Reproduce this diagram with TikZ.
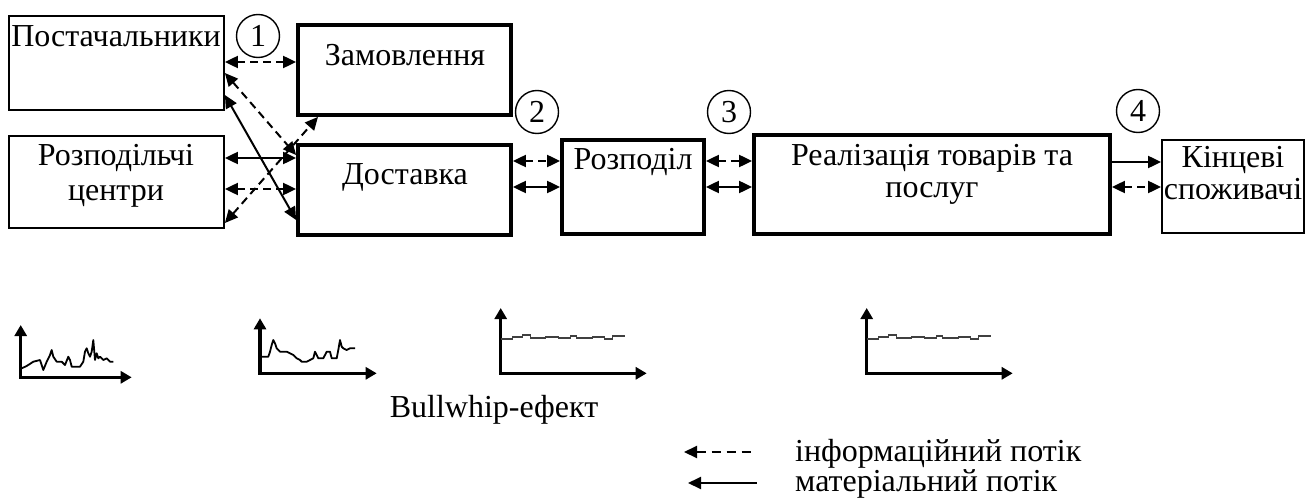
\documentclass[tikz,border=0pt]{standalone}
\usepackage{fontspec}
\setmainfont{Liberation Serif}
\usetikzlibrary{arrows.meta}
\begin{document}
\begin{tikzpicture}[x=1pt,y=-1pt,
  thinbox/.style={draw, line width=1.8pt, inner sep=0pt},
  thickbox/.style={draw, line width=3.8pt, inner sep=0pt},
  txt/.style={inner sep=0pt, font=\fontsize{32}{32}\selectfont, align=center},
  num/.style={draw, circle, fill=white, line width=1.4pt, minimum size=43pt, inner sep=0pt, font=\fontsize{32}{32}\selectfont},
  mat/.style={line width=2pt, {Triangle[length=13pt,width=12pt]}-{Triangle[length=13pt,width=12pt]}},
  inf/.style={mat, dash pattern=on 8pt off 5pt},
  matone/.style={line width=2pt, -{Triangle[length=13pt,width=12pt]}},
  axis/.style={line width=3.5pt, {Triangle[length=11pt,width=12pt]}-{Triangle[length=11pt,width=12pt]}},
  sig/.style={line width=1.8pt, line join=round},
  flat/.style={line width=1.2pt, draw=black!75},
]
\useasboundingbox (0,0) rectangle (1315,503);

% boxes
\node[thinbox, minimum width=215pt, minimum height=94pt] (post) at (116.5,63) {};
\node[thinbox, minimum width=215pt, minimum height=92pt] (rozc) at (116.5,182) {};
\node[thickbox, minimum width=213pt, minimum height=90pt] (zam) at (404.5,70) {};
\node[thickbox, minimum width=213pt, minimum height=90pt] (dost) at (404.5,190) {};
\node[thickbox, minimum width=142pt, minimum height=94pt] (rozp) at (633,187) {};
\node[thickbox, minimum width=356pt, minimum height=99pt] (real) at (932,184.5) {};
\node[thinbox, minimum width=142pt, minimum height=93pt] (kinc) at (1233,186.5) {};

% texts
\node[txt] (tpost) at (116,36) {Постачальники};
\node[txt] (tzam) at (405,55) {Замовлення};
\node[txt, font=\fontsize{32}{35}\selectfont] (trozc) at (116,176) {Розподільчі\\центри};
\node[txt] (tdost) at (405,177) {Доставка};
\node[txt] (trozp) at (633,162) {Розподіл};
\node[txt] (treal) at (932,174) {Реалізація товарів та\\послуг};
\node[txt] (tkinc) at (1233,173) {Кінцеві\\споживачі};

% connectors left cluster
\draw[inf] (post.east |- 0,62) -- (zam.west |- 0,62);
\draw[mat] (rozc.east |- 0,158) -- (dost.west |- 0,158);
\draw[inf] (rozc.east |- 0,189) -- (dost.west |- 0,189);
\draw[inf] (post.east |- 0,73) -- (dost.west |- 0,155);
\draw[mat] (post.east |- 0,95) -- (dost.west |- 0,220);
\draw[inf] (rozc.east |- 0,223) -- (zam.south -| 318,0);

% connectors chain
\draw[inf] (dost.east |- 0,161) -- (rozp.west |- 0,161);
\draw[mat] (dost.east |- 0,187) -- (rozp.west |- 0,187);
\draw[inf] (rozp.east |- 0,161) -- (real.west |- 0,161);
\draw[mat] (rozp.east |- 0,187) -- (real.west |- 0,187);
\draw[matone] (real.east |- 0,162) -- (kinc.west |- 0,162);
\draw[inf] (real.east |- 0,187) -- (kinc.west |- 0,187);

% numbered circles
\node[num] (n1) at (258,36) {1};
\node[num] (n2) at (537,112) {2};
\node[num] (n3) at (729,112) {3};
\node[num] (n4) at (1138,111) {4};

% charts
\draw[axis] (20.7,325) -- (20.7,377.3) -- (131.7,377.3);
\draw[sig] (21.7,368.3) -- (26.7,366) -- (33.3,361.7) -- (40,360) -- (43.3,370) -- (46.7,361.7) -- (50,355) -- (51.7,350) -- (53.3,356.7) -- (56.7,361.7) -- (61.7,361.7) -- (65,365) -- (68.3,356.7) -- (70,360) -- (71.7,366.7) -- (80,366.7) -- (83.3,361.7) -- (85,351.7) -- (86.7,348.3) -- (88.3,353.3) -- (90,356.7) -- (91.7,351.7) -- (93.3,340) -- (95,360) -- (96.7,353.3) -- (98.3,358.3) -- (100,356.7) -- (103.3,360) -- (106.7,358.3) -- (110,361.7) -- (113.3,361.7);

\draw[axis] (260,318.3) -- (260,373.3) -- (376.7,373.3);
\draw[sig] (260,356.7) -- (268.3,356.7) -- (270,351.7) -- (271.7,345) -- (273.3,340) -- (275,343.3) -- (276.7,348.3) -- (280,351.7) -- (286.7,351.7) -- (290,353.3) -- (293.3,355) -- (296.7,358.3) -- (300,360) -- (301.7,361.7) -- (306.7,361.7) -- (310,360) -- (313.3,358.3) -- (315,351.7) -- (316.7,355) -- (318.3,358.3) -- (323.3,358.3) -- (325,355) -- (326.7,351.7) -- (330,351.7) -- (331.7,358.3) -- (336.7,358.3) -- (338.3,350) -- (340,340) -- (341.7,346.7) -- (343.3,348.3) -- (346.7,350) -- (350,348.3) -- (355,348.3);

\foreach \xo/\xe in {500.7/646.7, 866.7/1012.7} {
  \draw[axis] (\xo,308) -- (\xo,373.3) -- (\xe,373.3);
  \begin{scope}[shift={(\xo,0)}]
    \draw[flat] (0,339) -- (12,339) -- (12,337) -- (22,337) -- (22,335) -- (30,335) -- (30,338) -- (45,338) -- (45,337) -- (58,337) -- (58,338) -- (70,338) -- (70,336) -- (76,336) -- (76,338) -- (92,338) -- (92,337) -- (104,337) -- (104,339) -- (112,339) -- (112,336) -- (124,336);
  \end{scope}
}

\node[txt] (bw) at (494,410) {Bullwhip-ефект};

% legend
\coordinate (li1) at (684,452);
\coordinate (li2) at (753,452);
\coordinate (lm1) at (688,483);
\coordinate (lm2) at (757,483);
\draw[line width=2pt, dash pattern=on 9pt off 6pt, {Triangle[length=13pt,width=12pt]}-] (li1) -- (li2);
\draw[line width=2pt, {Triangle[length=13pt,width=12pt]}-] (lm1) -- (lm2);
\node[txt, anchor=west] (linf) at (795,454) {інформаційний потік};
\node[txt, anchor=west] (lmat) at (795,484) {матеріальний потік};
\end{tikzpicture}
\end{document}
